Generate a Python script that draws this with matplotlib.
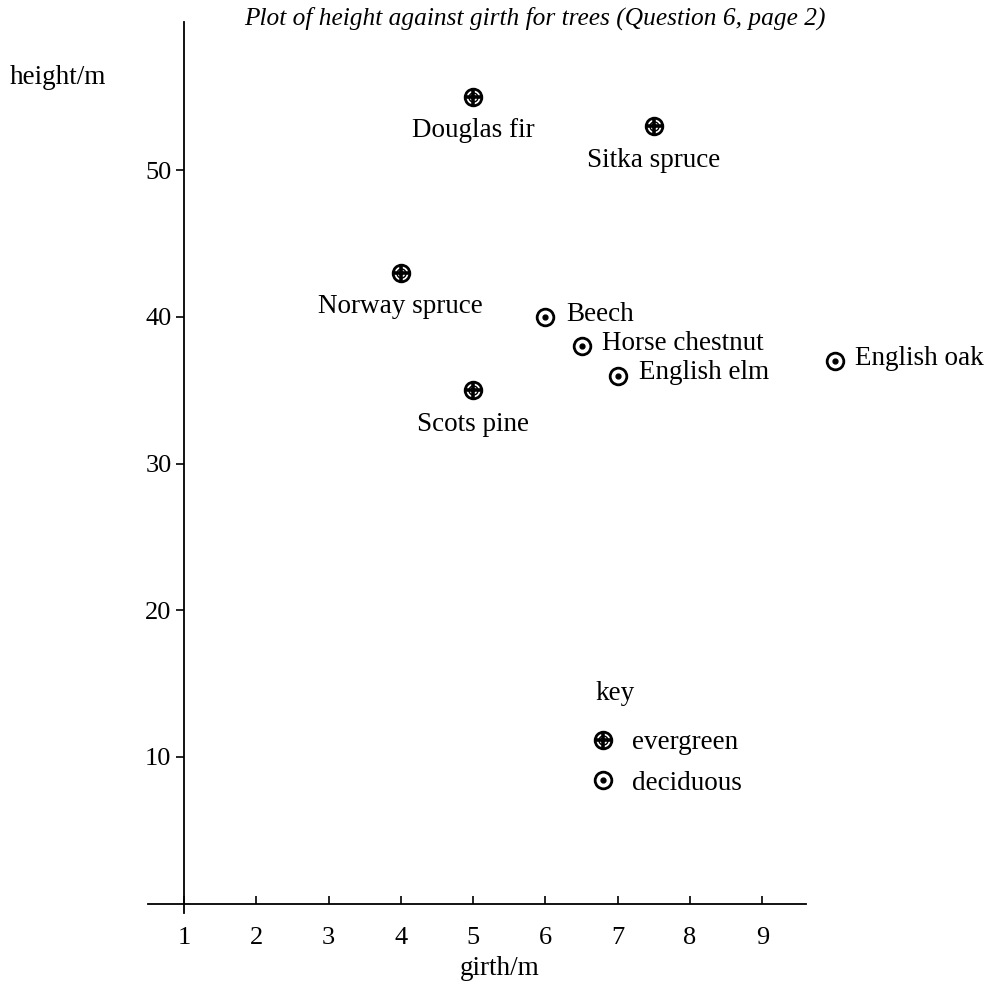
import matplotlib
matplotlib.use("Agg")
import matplotlib.pyplot as plt
from matplotlib.lines import Line2D
from matplotlib.legend_handler import HandlerTuple

plt.rcParams["font.family"] = ["Liberation Serif", "DejaVu Serif"]

names = ["Douglas fir", "Sitka spruce", "Norway spruce", "Scots pine",
         "Beech", "Horse chestnut", "English elm", "English oak"]
girth = [5.0, 7.5, 4.0, 5.0, 6.0, 6.5, 7.0, 10.0]
height = [55, 53, 43, 35, 40, 38, 36, 37]
kind = ["evergreen", "evergreen", "evergreen", "evergreen",
        "deciduous", "deciduous", "deciduous", "deciduous"]

xticks = [1, 2, 3, 4, 5, 6, 7, 8, 9]
yticks = [10, 20, 30, 40, 50]

W, H = 996, 988
FS = 19.5
fig = plt.figure(figsize=(W / 100, H / 100), dpi=100)
ax = fig.add_axes([148 / W, 1 - 913 / H, (990 - 148) / W, (913 - 22) / H])
ax.set_xlim(0.502, 12.15)
ax.set_ylim(-0.64, 60.1)

for s in ["top", "right"]:
    ax.spines[s].set_visible(False)
ax.spines["left"].set_position(("data", 1))
ax.spines["bottom"].set_position(("data", 0))
ax.spines["bottom"].set_bounds(0.502, 9.6)
for s in ["left", "bottom"]:
    ax.spines[s].set_linewidth(1.3)

ax.set_xticks(xticks)
ax.set_yticks(yticks)
ax.tick_params(axis="x", direction="in", length=6, width=1.2, labelsize=19, pad=17)
ax.tick_params(axis="y", direction="out", length=6, width=1.2, labelsize=19, pad=3)

ring = dict(marker="o", ms=12, mfc="white", mec="black", mew=2, ls="none")
plus = dict(marker="+", ms=12, mew=2.6, color="black", ls="none")
inner = dict(marker="o", ms=6.5, mfc="none", mec="black", mew=1.0, ls="none")
dot = dict(marker="o", ms=3.5, color="black", ls="none")

for n, x, y, k in zip(names, girth, height, kind):
    ax.plot([x], [y], clip_on=False, zorder=3, **ring)
    if k == "evergreen":
        ax.plot([x], [y], clip_on=False, zorder=4, **plus)
        ax.plot([x], [y], clip_on=False, zorder=4, **inner)
        ax.annotate(n, (x, y), xytext=(0, -24.5), textcoords="offset points",
                    ha="center", va="center", fontsize=FS)
    else:
        ax.plot([x], [y], clip_on=False, zorder=4, **dot)
        ax.annotate(n, (x, y), xytext=(15, 2), textcoords="offset points",
                    ha="left", va="center", fontsize=FS)

# key
fig.text(595 / W, 1 - 693 / H, "key", ha="left", va="center", fontsize=FS)
h_ever = (Line2D([], [], **ring), Line2D([], [], **plus), Line2D([], [], **inner))
h_dec = (Line2D([], [], **ring), Line2D([], [], **dot))
leg = fig.legend([h_ever, h_dec], ["evergreen", "deciduous"],
                 handler_map={tuple: HandlerTuple(ndivide=1)},
                 loc="upper left",
                 bbox_to_anchor=(594 / W, 1 - 730 / H),
                 frameon=False, fontsize=FS,
                 handlelength=0.7, handletextpad=0.7, labelspacing=0.58,
                 borderpad=0, borderaxespad=0)

fig.text(535 / W, 1 - 18 / H,
         "Plot of height against girth for trees (Question 6, page 2)",
         ha="center", va="center", fontsize=18.3, style="italic")
fig.text(10 / W, 1 - 78 / H, "height/m", ha="left", va="center", fontsize=FS)
fig.text(500 / W, 1 - 968 / H, "girth/m", ha="center", va="center", fontsize=FS)

fig.savefig("out.png", dpi=100)
